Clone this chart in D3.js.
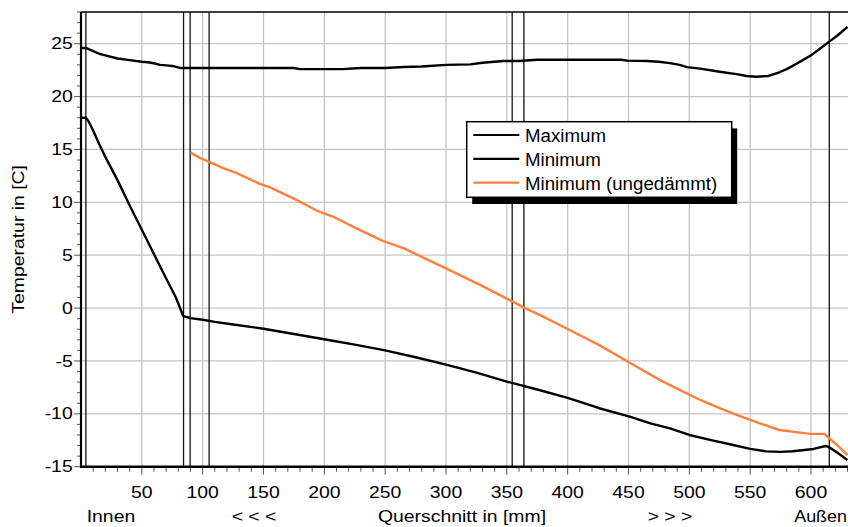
<!DOCTYPE html>
<html><head><meta charset="utf-8">
<script src="https://cdn.jsdelivr.net/npm/d3@7/dist/d3.min.js"></script>
<style>html,body{margin:0;padding:0;background:#fff;}svg{display:block;font-family:"Liberation Sans",Arial,sans-serif;}</style>
</head><body><svg id="c" width="848" height="527"></svg>
<script>
// ---- data ----
const maxX = [0,4,10,15,20,30,40,50,55,60,65,70,75,82,90,100,120,150,175,180,200,215,230,250,265,280,300,320,330,347,360,375,400,420,444,449,465,475,484,492,498,509,525,540,547,555,565,574,580,588,600,607,615,622,630];
const maxY = [24.6,24.6,24.3,24.05,23.9,23.6,23.45,23.3,23.25,23.15,23.0,22.95,22.9,22.7,22.7,22.7,22.7,22.7,22.7,22.6,22.6,22.6,22.7,22.7,22.8,22.85,23.0,23.05,23.2,23.36,23.36,23.49,23.49,23.49,23.49,23.4,23.36,23.3,23.17,23.0,22.79,22.64,22.35,22.1,21.95,21.88,21.95,22.3,22.6,23.1,23.9,24.5,25.2,25.8,26.6];
const minX = [0,4,6,10,15,20,30,40,50,60,70,78,84,90,100,110,125,150,175,200,225,250,275,300,325,350,375,400,426,451,468,484,500,517,536,550,563,575,585,602,612,615,622,630];
const minY = [18.0,18.0,17.7,16.8,15.5,14.3,12.1,9.7,7.4,5.1,2.8,1.0,-0.75,-0.95,-1.1,-1.3,-1.55,-1.95,-2.45,-2.95,-3.45,-4.0,-4.65,-5.35,-6.1,-6.95,-7.7,-8.5,-9.47,-10.27,-10.9,-11.37,-12.0,-12.47,-12.95,-13.32,-13.55,-13.6,-13.54,-13.32,-13.04,-13.16,-13.7,-14.37];
const uninsX = [90,98,106,117,128,147,155,177,194,207,226,248,265,300,328,352,365,377,402,426,450,476,492,509,525,541,558,574,591,600,611,615,622,630];
const uninsY = [14.7,14.18,13.81,13.24,12.77,11.75,11.44,10.24,9.2,8.66,7.56,6.36,5.67,3.75,2.2,0.78,0.0,-0.64,-2.1,-3.5,-5.1,-6.81,-7.74,-8.69,-9.47,-10.2,-10.9,-11.53,-11.78,-11.9,-11.9,-12.31,-13.0,-13.9];
const dividers = [4,84.3,89.7,105.3,354.4,364,615];
const xTicks = [50,100,150,200,250,300,350,400,450,500,550,600];
const yTicks = [-15,-10,-5,0,5,10,15,20,25];
const seriesNames = ["Maximum","Minimum","Minimum (ungedämmt)"];
const seriesColors = ["#000000","#000000","#ff7f3f"];
const bottomLabels = [["Innen",86.7,"start"],["< < <",254,"middle"],["Querschnitt in [mm]",462,"middle"],["> > >",670,"middle"],["Außen",847,"end"]];

// ---- layout ----
const svg = d3.select("#c");
const L = 81, R = 848, T = 12, B = 466.7;
const x = d3.scaleLinear().domain([0,630.4]).range([L,R]);
const y = d3.scaleLinear().domain([-15,28]).range([B,T]);
const SX = 1.19, FS = 16.3;

// grid
svg.append("g").selectAll("line").data(xTicks).join("line")
  .attr("x1",d=>x(d)).attr("x2",d=>x(d)).attr("y1",T).attr("y2",B)
  .attr("stroke","#c4c4c4").attr("stroke-width",1.3);
svg.append("g").selectAll("line").data(yTicks.filter(d=>d>-15)).join("line")
  .attr("x1",L).attr("x2",R).attr("y1",d=>y(d)).attr("y2",d=>y(d))
  .attr("stroke","#c4c4c4").attr("stroke-width",1.3);

// dividers
svg.append("g").selectAll("line").data(dividers).join("line")
  .attr("x1",d=>x(d)).attr("x2",d=>x(d)).attr("y1",T).attr("y2",B)
  .attr("stroke","#111").attr("stroke-width",1.3);

// top border
svg.append("line").attr("x1",L).attr("x2",R).attr("y1",T).attr("y2",T).attr("stroke","#000").attr("stroke-width",1.5);

// minor / major ticks
const xMinor = d3.range(10,631,10);
svg.append("g").selectAll("line").data(xMinor).join("line")
  .attr("x1",d=>x(d)).attr("x2",d=>x(d)).attr("y1",B).attr("y2",d=>B+(d%50===0?8:5))
  .attr("stroke","#555").attr("stroke-width",1);
const yMinor = d3.range(-15,29,1);
svg.append("g").selectAll("line").data(yMinor).join("line")
  .attr("x1",d=>L-(d%5===0?7:4)).attr("x2",L).attr("y1",d=>y(d)).attr("y2",d=>y(d))
  .attr("stroke","#555").attr("stroke-width",1);

// series
svg.append("clipPath").attr("id","pc").append("rect").attr("x",L).attr("y",T-2).attr("width",R-L).attr("height",B-T+2);
const line = d3.line().x(d=>x(d[0])).y(d=>y(d[1]));
const series = [d3.zip(maxX,maxY), d3.zip(minX,minY), d3.zip(uninsX,uninsY)];
const sg = svg.append("g").attr("clip-path","url(#pc)");
series.forEach((s,i)=>{
  sg.append("path").attr("d",line(s)).attr("fill","none")
    .attr("stroke",seriesColors[i]).attr("stroke-width",2.4).attr("stroke-linejoin","round");
});

// axes lines
svg.append("line").attr("x1",L).attr("x2",L).attr("y1",T).attr("y2",B+1).attr("stroke","#000").attr("stroke-width",2.2);
svg.append("line").attr("x1",L-1).attr("x2",R).attr("y1",B).attr("y2",B).attr("stroke","#000").attr("stroke-width",2.6);

// stretched text helper
function stext(g, str, tx, ty, anchor, rot, sx){
  g.append("text").attr("transform",`translate(${tx},${ty})${rot?` rotate(${rot})`:""} scale(${sx||SX},1)`)
    .attr("text-anchor",anchor).attr("font-size",FS).attr("fill","#000").text(str);
}
const tg = svg.append("g");
yTicks.forEach(v=>stext(tg, String(v), 72.7, y(v)+5.6, "end"));
xTicks.forEach(v=>stext(tg, String(v), x(v), 497.7, "middle"));
bottomLabels.forEach(b=>stext(tg, b[0], b[1], 521.8, b[2], 0, b[0]==="Außen"?1.1:SX));
stext(tg, "Temperatur in [C]", 23.5, (T+B)/2, "middle", -90);

// legend
const lx = 466.7, ly = 121.7, lw = 265, lh = 75.6;
const lg = svg.append("g");
lg.append("rect").attr("x",lx+5.5).attr("y",ly+6.7).attr("width",lw).attr("height",lh).attr("fill","#000");
lg.append("rect").attr("x",lx).attr("y",ly).attr("width",lw).attr("height",lh).attr("fill","#fff").attr("stroke","#000").attr("stroke-width",1.5);
seriesNames.forEach((n,i)=>{
  const ry = 135 + i*23.8;
  lg.append("line").attr("x1",473.3).attr("x2",519.3).attr("y1",ry).attr("y2",ry).attr("stroke",seriesColors[i]).attr("stroke-width",2.2);
  lg.append("text").attr("x",525).attr("y",ry+7).attr("font-size",18.7).attr("fill","#000").text(n);
});
</script></body></html>
